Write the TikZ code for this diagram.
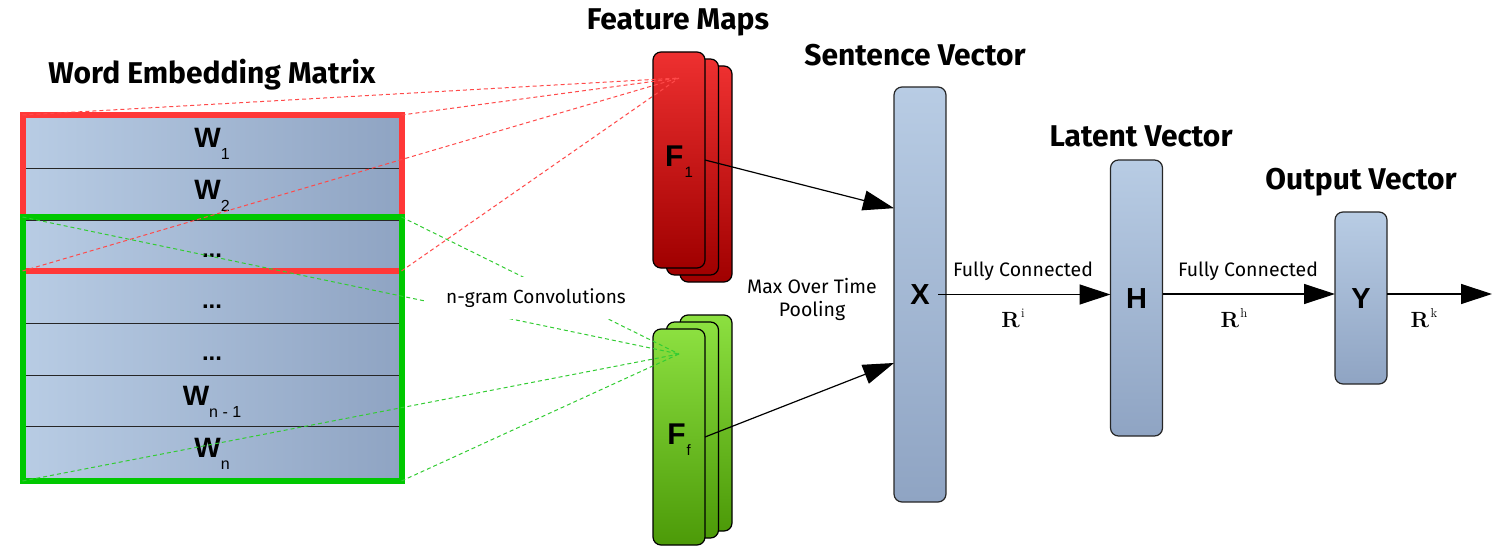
\documentclass[tikz,border=0pt]{standalone}
\usepackage{fontspec}
\setmainfont{Fira Sans}
\newfontfamily\labfont{Liberation Sans}
\newfontfamily\lmfont{Latin Modern Roman}
\usetikzlibrary{arrows.meta,calc}
\definecolor{rowL}{HTML}{B8CCE4}
\definecolor{rowR}{HTML}{8FA4C3}
\definecolor{boxRed}{HTML}{FF3838}
\definecolor{boxGreen}{HTML}{00C800}
\definecolor{mapRedT}{HTML}{EE3030}
\definecolor{mapRedB}{HTML}{A00000}
\definecolor{mapGrnT}{HTML}{8CE040}
\definecolor{mapGrnB}{HTML}{4C9A08}
\definecolor{dashRed}{HTML}{FF4A4A}
\definecolor{dashGreen}{HTML}{33CC33}
\newcommand\wlab[2]{\smash{\raisebox{-5pt}{{\labfont\bfseries\fontsize{28}{28}\selectfont #1}\raisebox{-12pt}{\labfont\fontsize{16}{16}\selectfont #2}}}}
\newcommand\flab[2]{\smash{\raisebox{-7pt}{{\labfont\bfseries\fontsize{30}{30}\selectfont #1}\hspace{1pt}\raisebox{-11pt}{\labfont\fontsize{15}{15}\selectfont #2}}}}
\newcommand\dotlab{\smash{\raisebox{-11pt}{\labfont\bfseries\fontsize{24}{24}\selectfont ...}}}
\newcommand\barlab[1]{\smash{\raisebox{-10pt}{\labfont\bfseries\fontsize{29}{29}\selectfont #1}}}
\newcommand\rlab[1]{{\lmfont\bfseries\fontsize{22}{22}\selectfont R}\hspace{1.5pt}\raisebox{10pt}{\lmfont\fontsize{13}{13}\selectfont #1}}
\begin{document}
\begin{tikzpicture}[x=1pt,y=-1pt,
  row/.style={draw=black!85, line width=1pt, left color=rowL, right color=rowR,
    minimum width=374pt, minimum height=51.6pt, inner sep=0pt, outer sep=0pt},
  vbar/.style={draw=black!85, line width=1.2pt, rounded corners=8pt, top color=rowL,
    bottom color=rowR, minimum width=52pt, inner sep=0pt, outer sep=0pt},
  redmap/.style={draw=black, line width=1.2pt, rounded corners=8pt, top color=mapRedT,
    bottom color=mapRedB, minimum width=52pt, minimum height=216pt, inner sep=0pt, outer sep=0pt},
  grnmap/.style={draw=black, line width=1.2pt, rounded corners=8pt, top color=mapGrnT,
    bottom color=mapGrnB, minimum width=52pt, minimum height=216pt, inner sep=0pt, outer sep=0pt},
  selbox/.style={line width=6pt, minimum width=379pt, inner sep=0pt, outer sep=0pt},
  title/.style={font=\fontsize{30}{30}\selectfont\bfseries, inner sep=0pt},
  lbl/.style={font=\fontsize{19.5}{23}\selectfont, inner sep=0pt, align=center},
  conn/.style={line width=1.2pt, -{Triangle[length=31pt,width=20pt]}},
  dashr/.style={dashRed, dash pattern=on 4pt off 3pt, line width=1pt},
  dashg/.style={dashGreen, dash pattern=on 4pt off 3pt, line width=1pt}]
\useasboundingbox (0,0) rectangle (1507,556);
% titles
\node[title] (t1) at (212,75) {Word Embedding Matrix};
\node[title] (t2) at (678,22) {Feature Maps};
\node[title] (t3) at (915,55) {Sentence Vector};
\node[title] (t4) at (1141,136) {Latent Vector};
\node[title] (t5) at (1361,182) {Output Vector};
% rows
\node[row] (r1) at (212,143) {\wlab{W}{1}};
\node[row] (r2) at (212,194.4) {\wlab{W}{2}};
\node[row] (r3) at (212,246) {\dotlab};
\node[row] (r4) at (212,297.6) {\dotlab};
\node[row] (r5) at (212,349.2) {\dotlab};
\node[row] (r6) at (212,400.8) {\wlab{W}{n - 1}};
\node[row] (r7) at (212,452.4) {\wlab{W}{n}};
% selection boxes
\node[selbox, draw=boxRed, minimum height=156pt] (redbox) at (212,193) {};
\node[selbox, draw=boxGreen, minimum height=264pt] (greenbox) at (212,349) {};
% feature maps
\node[redmap] (f1c) at (706,174) {};
\node[redmap] (f1b) at (692.5,167) {};
\node[redmap] (f1) at (679,160) {\flab{F}{1}};
\node[grnmap] (ffc) at (706,423) {};
\node[grnmap] (ffb) at (692.5,430) {};
\node[grnmap] (ff) at (679,437) {\flab{F}{f}};
% vectors
\node[vbar, minimum height=415pt] (X) at (920,294.5) {\barlab{X}};
\node[vbar, minimum height=276pt] (H) at (1136.5,298) {\barlab{H}};
\node[vbar, minimum height=172pt] (Y) at (1361,298) {\barlab{Y}};
% convergence points
\coordinate (cr) at (679,78);
\coordinate (cg) at (679,354);
\coordinate (out) at (1492,294);
% dashed convolution lines
\draw[dashr] (redbox.north west) -- (cr);
\draw[dashr] (redbox.north east) -- (cr);
\draw[dashr] (redbox.south west) -- (cr);
\draw[dashr] (redbox.south east) -- (cr);
\draw[dashg] (greenbox.north west) -- (cg);
\draw[dashg] (greenbox.north east) -- (cg);
\draw[dashg] (greenbox.south west) -- (cg);
\draw[dashg] (greenbox.south east) -- (cg);
\node[lbl, font=\fontsize{19}{23}\selectfont, fill=white, minimum width=220pt, minimum height=42pt] (ngram) at (536,298) {n-gram Convolutions};
% connectors
\draw[conn] (f1.east) -- ($(X.north west)!0.292!(X.south west)$);
\draw[conn] (ff.east) -- ($(X.north west)!0.665!(X.south west)$);
\draw[conn] ($(X.east)+(-8,0)$) -- (H.west |- X.east);
\draw[conn] ($(H.east)+(0,-4)$) -- ($(Y.west)+(0,-4)$);
\draw[conn] ($(Y.east)+(0,-4)$) -- (out);
% labels
\node[lbl] (mot) at (812,299) {Max Over Time\\Pooling};
\node[lbl] (fc1) at (1023,271) {Fully Connected};
\node[lbl] (fc2) at (1248,271) {Fully Connected};
\node[inner sep=0pt] (ri) at (1013,318) {\rlab{i}};
\node[inner sep=0pt] (rh) at (1234,318) {\rlab{h}};
\node[inner sep=0pt] (rk) at (1424,318) {\rlab{k}};
\end{tikzpicture}
\end{document}
